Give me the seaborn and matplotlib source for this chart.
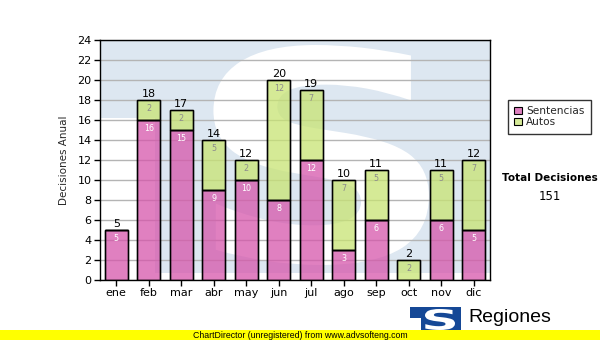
import matplotlib
matplotlib.use("Agg")
import matplotlib.pyplot as plt
import numpy as np
import pandas as pd
import seaborn as sns
from matplotlib.patches import Rectangle, PathPatch, Patch
from matplotlib.textpath import TextPath
from matplotlib.font_manager import FontProperties
from matplotlib.transforms import Affine2D

# Monthly decisions, split by type
months = ["ene", "feb", "mar", "abr", "may", "jun", "jul", "ago", "sep", "oct", "nov", "dic"]
sentencias = [5, 16, 15, 9, 10, 8, 12, 3, 6, 0, 6, 5]
autos = [0, 2, 2, 5, 2, 12, 7, 7, 5, 2, 5, 7]
series_names = ["Sentencias", "Autos"]
y_ticks = list(range(0, 25, 2))
y_label = "Decisiones Anual"
total_title = "Total Decisiones"
logo_name = "Regiones"
footer = "ChartDirector (unregistered) from www.advsofteng.com"

totals = [s + a for s, a in zip(sentencias, autos)]
grand_total = sum(totals)

PINK = "#d656ab"
GREEN = "#c8e473"
BAR_ALPHA = 0.75
WATERMARK = "#dde7f1"
LOGO_BLUE = "#154896"

sns.set_theme(style="white")
plt.rcParams["font.family"] = ["DejaVu Sans"]

W, H = 600, 340
fig = plt.figure(figsize=(W / 100, H / 100), dpi=100)
ax = fig.add_axes([100 / W, 60 / H, 390 / W, 240 / H])


def glyph_patch(ch, x0, x1, y0, y1, transform, **kw):
    """Bold glyph outline stretched to the box [x0, x1] x [y0, y1]."""
    tp = TextPath((0, 0), ch, size=1,
                  prop=FontProperties(family="DejaVu Sans", weight="bold"))
    ext = tp.get_extents()
    tr = (Affine2D().translate(-ext.x0, -ext.y0)
          .scale((x1 - x0) / ext.width, (y1 - y0) / ext.height)
          .translate(x0, y0))
    return PathPatch(tr.transform_path(tp), transform=transform, **kw)


# Background emblem inside the plot area
ax.add_patch(Rectangle((-0.47, 16.2), 11.97, 7.8, color=WATERMARK, lw=0, zorder=0.2))
ax.add_patch(Rectangle((1.2, 0.7), 10.3, 15.6, color=WATERMARK, lw=0, zorder=0.2))
ax.add_patch(glyph_patch("S", 2.99, 9.62, 1.5, 23.5, ax.transData,
                         facecolor="white", edgecolor="none", zorder=0.3))

df = pd.DataFrame({"mes": months, "Sentencias": sentencias, "Autos": autos})

sns.barplot(data=df, x="mes", y="Sentencias", order=months, color=PINK,
            saturation=1, alpha=BAR_ALPHA, width=0.7, edgecolor="black",
            linewidth=1, ax=ax, zorder=3)
pos = np.arange(len(months))
ax.bar(pos, autos, bottom=sentencias, width=0.7, color=GREEN, alpha=BAR_ALPHA,
       edgecolor="black", linewidth=1, zorder=3)
# redraw outlines at full opacity
ax.bar(pos, sentencias, width=0.7, fill=False, edgecolor="black", linewidth=1, zorder=4)
ax.bar(pos, autos, bottom=sentencias, width=0.7, fill=False, edgecolor="black",
       linewidth=1, zorder=4)

for i in range(len(months)):
    if sentencias[i] > 0:
        ax.annotate(str(sentencias[i]), (i, sentencias[i]), xytext=(0, -3),
                    textcoords="offset points", ha="center", va="top",
                    fontsize=5.8, color="white", zorder=5)
    if autos[i] > 0:
        ax.annotate(str(autos[i]), (i, totals[i]), xytext=(0, -3),
                    textcoords="offset points", ha="center", va="top",
                    fontsize=5.8, color="#8c8c8c", zorder=5)
    ax.annotate(str(totals[i]), (i, totals[i]), xytext=(0, 0.5),
                textcoords="offset points", ha="center", va="bottom",
                fontsize=8, color="black", zorder=5)

ax.set_xlim(-0.5, len(months) - 0.5)
ax.set_ylim(0, 24)
ax.set_yticks(y_ticks)
ax.set_xticks(pos)
ax.set_xticklabels(months)
ax.set_xlabel("")
ax.set_ylabel(y_label, fontsize=7.5, labelpad=6)
ax.set_axisbelow(True)
ax.yaxis.grid(True, color="#b4b4b4", linewidth=1, zorder=0.5)
ax.xaxis.grid(False)
ax.set_facecolor("white")
for sp in ax.spines.values():
    sp.set_color("black")
    sp.set_linewidth(1)
ax.tick_params(axis="both", which="major", length=4, width=1, color="black",
               labelsize=8, pad=2, bottom=True, left=True, labelcolor="black")

# Legend
handles = [Patch(facecolor="#de80bf", edgecolor="black", linewidth=0.8),
           Patch(facecolor="#d6eb98", edgecolor="black", linewidth=0.8)]
leg = fig.legend(handles, series_names, loc="upper left",
                 bbox_to_anchor=(508 / W, 1 - 100 / H), bbox_transform=fig.transFigure,
                 fontsize=7.6, frameon=True, fancybox=False, handlelength=0.7,
                 handleheight=0.7, handletextpad=0.4, borderpad=0.6,
                 labelspacing=0.1, borderaxespad=0)
leg.get_frame().set_edgecolor("black")
leg.get_frame().set_linewidth(1)

# Overlay in pixel coordinates for text and footer elements
ov = fig.add_axes([0, 0, 1, 1], zorder=10)
ov.set_xlim(0, W)
ov.set_ylim(0, H)
ov.axis("off")


def py(y):
    return H - y


ov.text(550, py(178), total_title, ha="center", va="center", fontsize=7.5,
        fontweight="bold", color="black")
ov.text(550, py(196), str(grand_total), ha="center", va="center", fontsize=8.5,
        color="black")

# Logo
ov.add_patch(Rectangle((410, py(330)), 51, 23, color=LOGO_BLUE, lw=0, zorder=1))
ov.add_patch(Rectangle((410, py(330)), 11, 12, color="white", lw=0, zorder=2))
ov.add_patch(glyph_patch("S", 425, 455, py(330), py(309), ov.transData,
                         facecolor="white", edgecolor="none", zorder=2))
ov.text(468, py(322), logo_name, ha="left", va="baseline", fontsize=14,
        family="Liberation Sans", color="black")

# Footer band
ov.add_patch(Rectangle((0, 0), W, 10, color="#ffff00", lw=0, zorder=5))
ov.text(W / 2, 5, footer, ha="center", va="center", fontsize=6.3,
        family="Liberation Sans", color="black", zorder=6)

fig.savefig("out.png", dpi=100)
